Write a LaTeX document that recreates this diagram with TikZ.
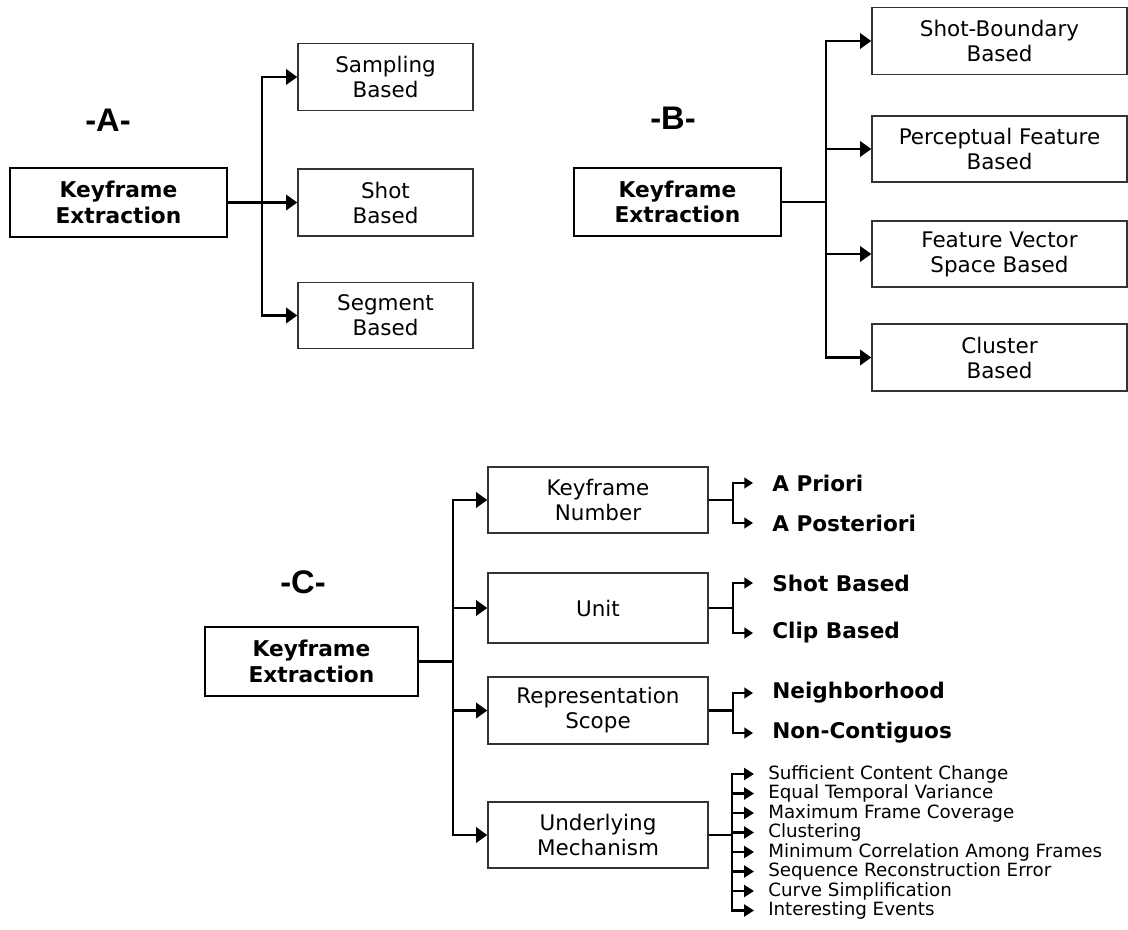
\documentclass[tikz,border=0pt]{standalone}
\usepackage{fontspec}
\setmainfont{DejaVu Sans}
\newfontfamily\headfont{Liberation Sans}
\usetikzlibrary{arrows.meta}
\def\px{*0.75pt}

\begin{document}
\begin{tikzpicture}[x=0.75pt,y=-0.75pt,
  box/.style={draw=black!80, line width=1pt, align=center, inner sep=0pt,
    font=\fontsize{16.1}{18.75}\selectfont},
  rootbox/.style={draw=black, line width=2.2pt, align=center, inner sep=0pt,
    font=\fontsize{16.3}{19}\selectfont\bfseries},
  tag/.style={inner sep=0pt, font=\headfont\bfseries\fontsize{24.5}{24.5}\selectfont},
  conn/.style={line width=2.1pt},
  arr/.style={conn, -{Triangle[length=8.5pt,width=11.5pt]}},
  subconn/.style={line width=1.8pt},
  subarr/.style={subconn, -{Triangle[length=6.5pt,width=8pt]}},
  listarr/.style={subconn, -{Triangle[length=7.5pt,width=9pt]}},
  leaf/.style={anchor=west, inner xsep=14.25pt, inner ysep=0pt,
    font=\fontsize{16.2}{19}\selectfont\bfseries},
  smallleaf/.style={anchor=west, inner xsep=10.5pt, inner ysep=0pt,
    font=\fontsize{13.7}{15}\selectfont},
]
\fill[white] (0,0) rectangle (1128,929);
\useasboundingbox (0,0) rectangle (1128,929);

% ---------- A ----------
\node[tag] (tA) at (108,120) {-A-};
\node[rootbox, minimum width=217\px, minimum height=69\px] (a0) at (118.5,202.5) {Keyframe\\Extraction};
\node[box, minimum width=175\px, minimum height=67\px] (a1) at (385.5,77) {Sampling\\Based};
\node[box, minimum width=175\px, minimum height=67\px] (a2) at (385.5,202.5) {Shot\\Based};
\node[box, minimum width=175\px, minimum height=66\px] (a3) at (385.5,315.5) {Segment\\Based};
\coordinate (aj) at (262,202.5);
\draw[conn] (a0.east) -- (aj);
\foreach \n in {a1,a2,a3} \draw[arr] (aj) |- (\n.west);

% ---------- B ----------
\node[tag] (tB) at (673,118) {-B-};
\node[rootbox, minimum width=207\px, minimum height=68\px] (b0) at (677.5,202) {Keyframe\\Extraction};
\node[box, minimum width=255\px, minimum height=67\px] (b1) at (999.5,41) {Shot-Boundary\\Based};
\node[box, minimum width=255\px, minimum height=66\px] (b2) at (999.5,149) {Perceptual Feature\\Based};
\node[box, minimum width=255\px, minimum height=66\px] (b3) at (999.5,254) {Feature Vector\\Space Based};
\node[box, minimum width=255\px, minimum height=67\px] (b4) at (999.5,357.5) {Cluster\\Based};
\coordinate (bj) at (826,202);
\draw[conn] (b0.east) -- (bj);
\foreach \n in {b1,b2,b3,b4} \draw[arr] (bj) |- (\n.west);

% ---------- C ----------
\node[tag] (tC) at (303,582) {-C-};
\node[rootbox, minimum width=213\px, minimum height=69\px] (c0) at (311.5,661.5) {Keyframe\\Extraction};
\node[box, minimum width=220\px, minimum height=66\px] (c1) at (598,500) {Keyframe\\Number};
\node[box, minimum width=220\px, minimum height=70\px] (c2) at (598,608) {Unit};
\node[box, minimum width=220\px, minimum height=67\px] (c3) at (598,710.5) {Representation\\Scope};
\node[box, minimum width=220\px, minimum height=66\px] (c4) at (598,835) {Underlying\\Mechanism};
\coordinate (cj) at (453,661.5);
\draw[conn] (c0.east) -- (cj);
\foreach \n in {c1,c2,c3,c4} \draw[arr] (cj) |- (\n.west);

% second level: two-way forks
\node[leaf] (c11) at (753,483) {A Priori};
\node[leaf] (c12) at (753,523) {A Posteriori};
\node[leaf] (c21) at (753,583) {Shot Based};
\node[leaf] (c22) at (753,633) {Clip Based};
\node[leaf] (c31) at (753,693) {Neighborhood};
\node[leaf] (c32) at (753,733) {Non-Contiguos};
\foreach \p in {1,2,3}{
  \coordinate (cj\p) at (733,0 |- c\p.east);
  \draw[subconn] (c\p.east) -- (cj\p);
  \draw[subarr] (cj\p) |- (c\p1.west);
  \draw[subarr] (cj\p) |- (c\p2.west);
}

% second level: mechanism list
\foreach \t [count=\i from 0] in {Sufficient Content Change, Equal Temporal Variance,
    Maximum Frame Coverage, Clustering, Minimum Correlation Among Frames,
    Sequence Reconstruction Error, Curve Simplification, Interesting Events}
  \node[smallleaf] (m\i) at (754,774+19.5*\i) {\t};
\coordinate (cj4) at (732,835);
\draw[conn] (c4.east) -- (cj4);
\foreach \i in {0,...,7} \draw[listarr] (cj4) |- (m\i.west);
\end{tikzpicture}
\end{document}
